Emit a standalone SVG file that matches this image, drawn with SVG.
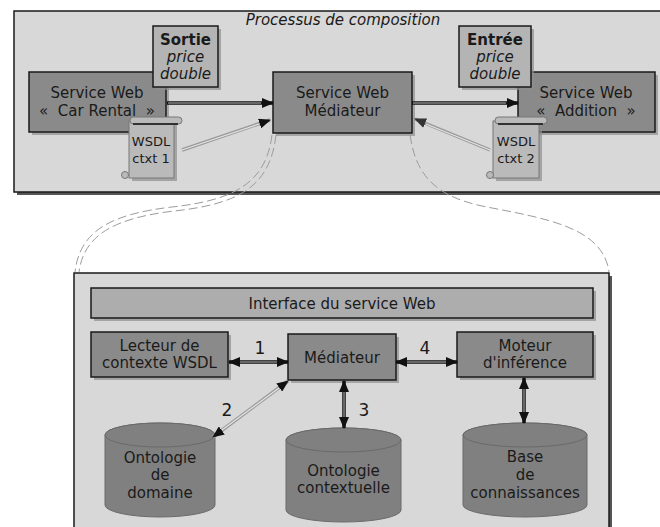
<svg xmlns="http://www.w3.org/2000/svg" width="660" height="527" viewBox="0 0 660 527">
<defs>
<marker id="ah" viewBox="0 0 12 10" refX="11" refY="5" markerWidth="12" markerHeight="10" markerUnits="userSpaceOnUse" orient="auto-start-reverse"><path d="M0,0 L12,5 L0,10 Z" fill="#111"/></marker>
<marker id="ahg" viewBox="0 0 12 10" refX="11" refY="5" markerWidth="12" markerHeight="10" markerUnits="userSpaceOnUse" orient="auto-start-reverse"><path d="M0,0 L12,5 L0,10 Z" fill="#333"/></marker>
</defs>
<style>
text{font-family:"DejaVu Sans","Verdana",sans-serif;font-size:15px;fill:#1a1a1a;text-anchor:middle}
.frame{fill:#d8d8d8;stroke:#1a1a1a;stroke-width:1.5}
.fsh{fill:#555}
.box{fill:#8a8a8a;stroke:#1a1a1a;stroke-width:1.5}
.lbox{fill:#b4b4b4;stroke:#1a1a1a;stroke-width:1.5}
.bar{fill:#adadad;stroke:#1a1a1a;stroke-width:1.5}
.sh{fill:#8e8e8e;opacity:0.7}
.scroll{fill:#bababa;stroke:#777;stroke-width:1}
.cyl{fill:#808080;stroke:#6a6a6a;stroke-width:1}
.ar{stroke:#111;stroke-width:3.5;fill:none}
.ari{stroke:#bdbdbd;stroke-width:1;fill:none}
.ga{stroke:#9a9a9a;stroke-width:3.5;fill:none}
.gai{stroke:#e4e4e4;stroke-width:1.2;fill:none}
.dash{stroke:#9c9c9c;stroke-width:1;fill:none;stroke-dasharray:9 4}
.it{font-style:italic}
.b{font-weight:bold}
.num{font-size:17px}
</style>

<!-- top frame -->
<g id="composition">
<rect x="17" y="14" width="650" height="181" class="fsh"/>
<rect x="14" y="11" width="650" height="181" class="frame"/>
<text x="343" y="25" class="it">Processus de composition</text>
</g>

<!-- bottom frame -->
<g id="interface-frame">
<rect x="77" y="276" width="535" height="260" class="fsh"/>
<rect x="74" y="273" width="535" height="260" class="frame"/>
</g>

<!-- dashed zoom curves -->
<g id="zoom-curves">
<path class="dash" d="M272,135 C266,182 236,200 172,207 C112,214 80,230 75,272"/>
<path class="dash" d="M276,135 C270,186 240,204 174,211 C116,218 84,234 79,272"/>
<path class="dash" d="M410,135 C416,176 436,196 482,206 C542,218 603,226 609,272"/>
</g>

<g id="car-rental">
<rect x="32" y="75" width="137" height="60" class="sh"/>
<rect x="29" y="72" width="137" height="60" class="box"/>
<text x="97" y="98">Service Web</text>
<text x="97" y="116">«&#160; Car Rental&#160; »</text>
</g>

<g id="sortie">
<rect x="156" y="29" width="65" height="61" class="sh"/>
<rect x="153" y="26" width="65" height="61" class="lbox"/>
<text x="185.5" y="45" class="b">Sortie</text>
<text x="185.5" y="62" class="it">price</text>
<text x="185.5" y="79" class="it">double</text>
</g>

<g id="mediateur-top">
<rect x="276" y="75" width="139" height="61" class="sh"/>
<rect x="273" y="72" width="139" height="61" class="box"/>
<text x="342.5" y="98">Service Web</text>
<text x="342.5" y="116">Médiateur</text>
</g>

<g id="addition">
<rect x="521" y="75" width="137" height="60" class="sh"/>
<rect x="518" y="72" width="137" height="60" class="box"/>
<text x="586" y="98">Service Web</text>
<text x="586" y="116">«&#160; Addition&#160; »</text>
</g>

<g id="entree">
<rect x="462" y="29" width="72" height="61" class="sh"/>
<rect x="459" y="26" width="72" height="61" class="lbox"/>
<text x="495" y="45" class="b">Entrée</text>
<text x="495" y="62" class="it">price</text>
<text x="495" y="79" class="it">double</text>
</g>

<g id="wsdl-ctxt1">
<rect x="132" y="124" width="45" height="57" fill="#8e8e8e" opacity="0.7"/>
<rect x="129" y="121" width="45" height="57" class="scroll"/>
<rect x="130" y="117" width="52" height="7" rx="3.5" class="scroll"/>
<line x1="133" y1="124" x2="178" y2="124" stroke="#111" stroke-width="1.5"/>
<circle cx="125" cy="175" r="3.5" class="scroll"/>
<text x="151" y="146" style="font-size:13px">WSDL</text>
<text x="151" y="163" style="font-size:13px">ctxt 1</text>
</g>

<g id="wsdl-ctxt2">
<rect x="496" y="124" width="46" height="57" fill="#8e8e8e" opacity="0.7"/>
<rect x="493" y="121" width="46" height="57" class="scroll"/>
<rect x="495" y="117" width="52" height="7" rx="3.5" class="scroll"/>
<line x1="498" y1="124" x2="543" y2="124" stroke="#111" stroke-width="1.5"/>
<circle cx="490" cy="175" r="3.5" class="scroll"/>
<text x="516" y="146" style="font-size:13px">WSDL</text>
<text x="516" y="163" style="font-size:13px">ctxt 2</text>
</g>

<g id="interface-bar">
<rect x="94" y="291" width="502" height="30" class="sh"/>
<rect x="91" y="288" width="502" height="30" class="bar"/>
<text x="342" y="309">Interface du service Web</text>
</g>

<g id="lecteur">
<rect x="94" y="335" width="137" height="45" class="sh"/>
<rect x="91" y="332" width="137" height="45" class="box"/>
<text x="159.5" y="351">Lecteur de</text>
<text x="159.5" y="368">contexte WSDL</text>
</g>

<g id="mediateur">
<rect x="291" y="337" width="108" height="46" class="sh"/>
<rect x="288" y="334" width="108" height="46" class="box"/>
<text x="342" y="363">Médiateur</text>
</g>

<g id="moteur">
<rect x="460" y="335" width="136" height="45" class="sh"/>
<rect x="457" y="332" width="136" height="45" class="box"/>
<text x="525" y="351">Moteur</text>
<text x="525" y="368">d'inférence</text>
</g>

<g id="ontologie-domaine">
<path class="cyl" d="M105,435 L105,505 A55,12 0 0 0 215,505 L215,435 A55,12 0 0 0 105,435 Z"/>
<ellipse cx="160" cy="435" rx="55" ry="12" class="cyl"/>
<text x="160" y="463">Ontologie</text>
<text x="160" y="480">de</text>
<text x="160" y="498">domaine</text>
</g>

<g id="ontologie-contextuelle">
<path class="cyl" d="M286,440 L286,510 A57.5,12 0 0 0 401,510 L401,440 A57.5,12 0 0 0 286,440 Z"/>
<ellipse cx="343.5" cy="440" rx="57.5" ry="12" class="cyl"/>
<text x="343.5" y="476">Ontologie</text>
<text x="343.5" y="493">contextuelle</text>
</g>

<g id="base-connaissances">
<path class="cyl" d="M463,435 L463,505 A62,12 0 0 0 587,505 L587,435 A62,12 0 0 0 463,435 Z"/>
<ellipse cx="525" cy="435" rx="62" ry="12" class="cyl"/>
<text x="525" y="462">Base</text>
<text x="525" y="480">de</text>
<text x="525" y="498">connaissances</text>
</g>

<g id="connectors">
<!-- top -->
<line x1="167" y1="103" x2="273" y2="103" class="ar" marker-end="url(#ah)"/>
<line x1="168" y1="103" x2="261" y2="103" class="ari"/>
<line x1="412" y1="103" x2="518" y2="103" class="ar" marker-end="url(#ah)"/>
<line x1="413" y1="103" x2="506" y2="103" class="ari"/>
<line x1="182" y1="150" x2="270" y2="120" class="ga" marker-end="url(#ah)"/>
<line x1="182" y1="150" x2="259" y2="124" class="gai"/>
<line x1="490" y1="150" x2="415" y2="119" class="ga" marker-end="url(#ahg)"/>
<line x1="490" y1="150" x2="426" y2="124" class="gai"/>
<!-- bottom -->
<line x1="229" y1="362" x2="288" y2="362" class="ar" marker-start="url(#ah)" marker-end="url(#ah)"/>
<line x1="240" y1="362" x2="277" y2="362" class="ari"/>
<line x1="396" y1="362" x2="457" y2="362" class="ar" marker-start="url(#ah)" marker-end="url(#ah)"/>
<line x1="407" y1="362" x2="446" y2="362" class="ari"/>
<line x1="344" y1="381" x2="344" y2="428" class="ar" marker-start="url(#ah)" marker-end="url(#ah)"/>
<line x1="344" y1="392" x2="344" y2="417" class="ari"/>
<line x1="524" y1="378" x2="524" y2="423" class="ar" marker-start="url(#ah)" marker-end="url(#ah)"/>
<line x1="524" y1="389" x2="524" y2="412" class="ari"/>
<line x1="288" y1="381" x2="213" y2="437" class="ga" marker-start="url(#ah)" marker-end="url(#ah)"/>
<line x1="279" y1="388" x2="222" y2="430" class="gai"/>
<text x="260" y="354" class="num">1</text>
<text x="227" y="416" class="num">2</text>
<text x="364" y="416" class="num">3</text>
<text x="425" y="354" class="num">4</text>
</g>
</svg>
